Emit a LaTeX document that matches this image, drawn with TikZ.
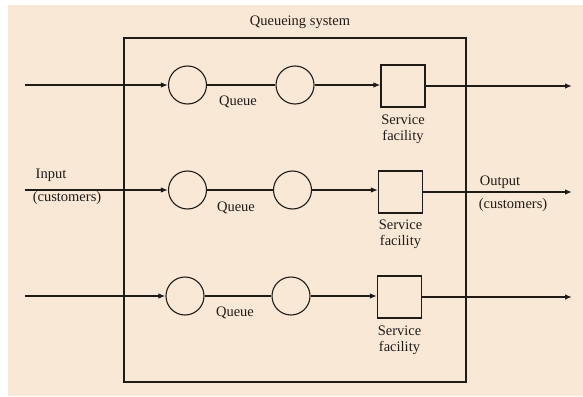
\documentclass[tikz,border=0pt]{standalone}
\usepackage{fontspec}
\setmainfont{Liberation Serif}
\usetikzlibrary{arrows.meta}
\definecolor{paper}{RGB}{250,232,214}
\definecolor{ink}{RGB}{30,28,24}
\tikzset{
  queuecirc/.style={circle,draw=ink,line width=1.1pt,minimum size=38pt,inner sep=0pt},
  servbox/.style={rectangle,draw=ink,line width=1.1pt,minimum width=44pt,minimum height=42pt,inner sep=0pt},
  lbl/.style={text=ink,font=\fontsize{14.5}{16}\selectfont,inner sep=0pt,align=center},
  flow/.style={draw=ink,line width=1.6pt},
  flowarr/.style={flow,-{Latex[length=7pt,width=5.5pt]}}
}
\begin{document}
\begin{tikzpicture}[x=1pt,y=-1pt]
\useasboundingbox (0,0) rectangle (583,396);
\fill[white] (0,0) rectangle (583,396);
\fill[paper] (8,5) rectangle (583,396);
% system box
\draw[ink,line width=1.3pt] (124,38) rectangle (466,382);
\node[lbl] (title) at (300,22) {Queueing system};
% row 1
\coordinate (in1) at (25,85);
\node[queuecirc] (a1) at (187.5,85) {};
\node[queuecirc] (b1) at (295,85) {};
\node[servbox] (s1) at (403,86) {};
\coordinate (out1) at (572,86);
\draw[flowarr] (in1) -- (a1);
\draw[flow] (a1) -- (b1);
\draw[flowarr] (b1) -- (s1.west |- b1);
\draw[flowarr] (s1) -- (out1);
\node[lbl] (q1) at (238,102) {Queue};
\node[lbl] (f1) at (403,129) {Service\\facility};
% row 2
\coordinate (in2) at (25,190);
\node[queuecirc] (a2) at (187.5,190) {};
\node[queuecirc] (b2) at (292.5,190) {};
\node[servbox] (s2) at (400.5,192) {};
\coordinate (out2) at (572,192);
\draw[flowarr] (in2) -- (a2);
\draw[flow] (a2) -- (b2);
\draw[flowarr] (b2) -- (s2.west |- b2);
\draw[flowarr] (s2) -- (out2);
\node[lbl] (q2) at (236,208) {Queue};
\node[lbl] (f2) at (400.5,234.5) {Service\\facility};
\node[lbl] (inl) at (51,175) {Input};
\node[lbl] (inc) at (67,198) {(customers)};
\node[lbl] (outl) at (500,182) {Output};
\node[lbl] (outc) at (513,205) {(customers)};
% row 3
\coordinate (in3) at (25,296);
\node[queuecirc] (a3) at (185,296) {};
\node[queuecirc] (b3) at (291,296) {};
\node[servbox] (s3) at (399.5,297) {};
\coordinate (out3) at (572,297);
\draw[flowarr] (in3) -- (a3);
\draw[flow] (a3) -- (b3);
\draw[flowarr] (b3) -- (s3.west |- b3);
\draw[flowarr] (s3) -- (out3);
\node[lbl] (q3) at (235,313) {Queue};
\node[lbl] (f3) at (399.5,340) {Service\\facility};
\end{tikzpicture}
\end{document}
